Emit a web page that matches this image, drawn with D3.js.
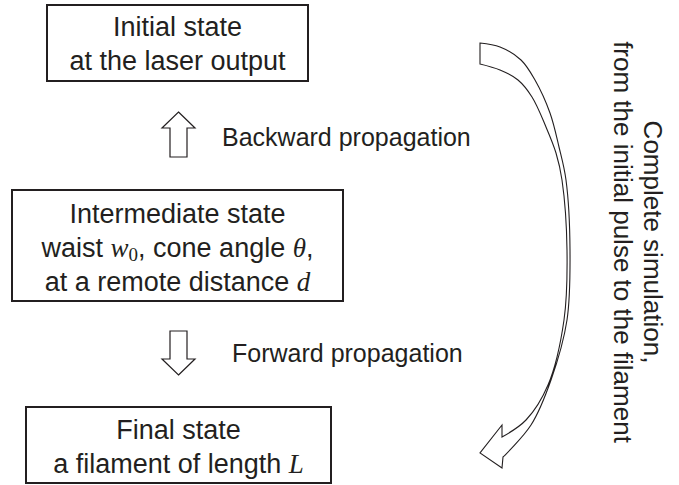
<!DOCTYPE html>
<html>
<head>
<meta charset="utf-8">
<script src="https://cdn.jsdelivr.net/npm/d3@7"></script>
<style>
  html, body { margin: 0; padding: 0; background: #fff; }
  svg { display: block; }
</style>
</head>
<body>
<svg id="chart" width="679" height="485"></svg>
<script>
// ---- content (text) ----
const boxTitles = ["Initial state", "Intermediate state", "Final state"];
const boxLine1 = [
  [{t: "at the laser output"}],
  [{t: "waist "}, {t: "w", m: 1}, {t: "0", sub: 1}, {t: ", cone angle "}, {t: "θ", m: 1}, {t: ","}],
  [{t: "a filament of length "}, {t: "L", m: 1}]
];
const boxLine2 = [
  null,
  [{t: "at a remote distance "}, {t: "d", m: 1}],
  null
];
const stepLabels = ["Backward propagation", "Forward propagation"];
const stepDirections = ["up", "down"];
const sideLabels = ["Complete simulation,", "from the initial pulse to the filament"];

// ---- layout ----
const ink = "#231f20";
const sansFont = "'Liberation Sans', Arial, Helvetica, sans-serif";
const mathFont = "'Liberation Serif', 'DejaVu Serif', serif";
const boxRects = [
  {x: 47, y: 5, w: 261, h: 76, first: 36},
  {x: 12, y: 190, w: 331, h: 111, first: 223},
  {x: 26, y: 407, w: 305, h: 76, first: 439}
];
const lineGap = 34;
const arrowSpecs = [
  {cx: 178.5, top: 112, bottom: 157, labelX: 222, labelY: 146},
  {cx: 178.5, top: 331, bottom: 375, labelX: 232, labelY: 362}
];
// curved arrow outline (outer and inner edges, tail to head)
const outerEdge = [[480,43],[500,47],[521,60],[535,80],[550,113],[559,147],[566,180],[570,250],[567,320],[551,380],[531,425],[503,457]];
const innerEdge = [[480,64],[500,70],[518,80],[532,97],[546,127],[556,153],[562,180],[567,250],[564,320],[548,385],[526,420],[502,437]];
const headPts = [[502,437],[502,425],[480,453],[502,468],[503,457]];

const svg = d3.select("#chart");

// ---- boxes ----
function addSegments(textSel, segs) {
  segs.forEach(s => {
    const ts = textSel.append("tspan").text(s.t);
    if (s.m) ts.attr("font-family", mathFont).attr("font-style", "italic");
    if (s.sub) ts.attr("font-family", mathFont).attr("font-size", 19).attr("baseline-shift", "-22%");
  });
}

boxRects.forEach((b, i) => {
  const g = svg.append("g");
  g.append("rect")
    .attr("x", b.x).attr("y", b.y).attr("width", b.w).attr("height", b.h)
    .attr("fill", "none").attr("stroke", ink).attr("stroke-width", 2);
  const cx = b.x + b.w / 2;
  const lines = [[{t: boxTitles[i]}], boxLine1[i]];
  if (boxLine2[i]) lines.push(boxLine2[i]);
  lines.forEach((segs, k) => {
    const t = g.append("text")
      .attr("x", cx).attr("y", b.first + k * lineGap)
      .attr("text-anchor", "middle")
      .attr("font-family", sansFont).attr("font-size", 27)
      .attr("fill", ink);
    addSegments(t, segs);
  });
});

// ---- hollow straight arrows ----
const hw = 8.5, headHalf = 16.5, headLen = 16;
arrowSpecs.forEach((a, i) => {
  let pts;
  if (stepDirections[i] === "up") {
    const hb = a.top + headLen;
    pts = [[a.cx, a.top], [a.cx + headHalf, hb], [a.cx + hw, hb], [a.cx + hw, a.bottom],
           [a.cx - hw, a.bottom], [a.cx - hw, hb], [a.cx - headHalf, hb]];
  } else {
    const hb = a.bottom - headLen;
    pts = [[a.cx, a.bottom], [a.cx + headHalf, hb], [a.cx + hw, hb], [a.cx + hw, a.top],
           [a.cx - hw, a.top], [a.cx - hw, hb], [a.cx - headHalf, hb]];
  }
  svg.append("path")
    .attr("d", d3.line()(pts) + "Z")
    .attr("fill", "#fff").attr("stroke", ink).attr("stroke-width", 1.2)
    .attr("stroke-linejoin", "miter");
  svg.append("text")
    .attr("x", a.labelX).attr("y", a.labelY)
    .attr("font-family", sansFont).attr("font-size", 25)
    .attr("fill", ink).text(stepLabels[i]);
});

// ---- curved hollow arrow ----
const curve = d3.line().curve(d3.curveCatmullRom.alpha(0.5));
const outerPath = curve(outerEdge);
const innerRev = curve(innerEdge.slice().reverse());
const headPath = "L" + headPts.slice().reverse().map(p => p.join(",")).join("L");
const innerPathBody = innerRev.replace(/^M[^C]*/, "");
const outline = outerPath + headPath + "L" + innerEdge[innerEdge.length-1].join(",") + innerPathBody + "Z";
svg.append("path")
  .attr("d", outline)
  .attr("fill", "#fff").attr("stroke", ink).attr("stroke-width", 1.1)
  .attr("stroke-linejoin", "miter");

// ---- rotated side labels ----
const sideG = svg.append("g").attr("transform", "translate(644,242) rotate(90)");
sideLabels.forEach((s, k) => {
  sideG.append("text")
    .attr("x", 0).attr("y", k * 30)
    .attr("text-anchor", "middle")
    .attr("font-family", sansFont).attr("font-size", 26)
    .attr("fill", ink).text(s);
});
</script>
</body>
</html>
